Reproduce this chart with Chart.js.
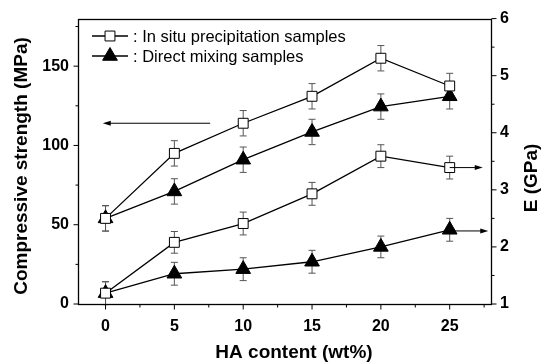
<!DOCTYPE html>
<html>
<head>
<meta charset="utf-8">
<script src="https://cdn.jsdelivr.net/npm/chart.js@4.4.1/dist/chart.umd.min.js"></script>
<style>
  html, body { margin: 0; padding: 0; background: #fff; }
</style>
</head>
<body>
<canvas id="grafico" width="542" height="363"></canvas>
<script>
// datos
const haContent = [0, 5, 10, 15, 20, 25];
const strengthInSitu = [54, 95, 114, 131, 155, 137.5];
const strengthMixing = [54, 71, 91, 108.5, 124.5, 131];
const modulusInSitu = [1.19, 2.08, 2.41, 2.93, 3.59, 3.39];
const modulusMixing = [1.19, 1.53, 1.61, 1.74, 2.0, 2.3];
const strengthErrInSitu = [8, 8, 8, 8, 8, 8];
const strengthErrMixing = [8, 8, 8, 8, 8, 8];
const modulusErrInSitu = [0.2, 0.19, 0.2, 0.2, 0.2, 0.2];
const modulusErrMixing = [0.2, 0.2, 0.2, 0.2, 0.19, 0.2];

const xTicks = [0, 5, 10, 15, 20, 25];
const xMinorTicks = [2.5, 7.5, 12.5, 17.5, 22.5, 27.5];
const strengthTicks = [0, 50, 100, 150];
const strengthMinorTicks = [25, 75, 125, 175];
const modulusTicks = [1, 2, 3, 4, 5, 6];
const modulusMinorTicks = [1.5, 2.5, 3.5, 4.5, 5.5];

const legendLabels = [": In situ precipitation samples", ": Direct mixing samples"];
const xTitle = "HA content (wt%)";
const yTitle = "Compressive strength (MPa)";
const y1Title = "E (GPa)";

// flechas que indican el eje de cada grupo (coordenadas de datos)
const arrows = [
  { axis: "y", value: 114, from: 7.6, to: -0.2 },
  { axis: "y1", value: 3.39, from: 25, to: 27.4 },
  { axis: "y1", value: 2.28, from: 25, to: 27.8 }
];

const FONT = "'Liberation Sans', Arial, sans-serif";

function puntos(ys) {
  return haContent.map((x, i) => ({ x, y: ys[i] }));
}

const cuadrado = {
  pointStyle: "rect", pointRadius: 7, pointHoverRadius: 7,
  pointBackgroundColor: "#fff", pointBorderColor: "#000", pointBorderWidth: 1
};
const triangulo = {
  pointStyle: "triangle", pointRadius: 8.5, pointHoverRadius: 8.5,
  pointBackgroundColor: "#000", pointBorderColor: "#000", pointBorderWidth: 1
};

const datasets = [
  { data: puntos(strengthInSitu), yAxisID: "y", errores: strengthErrInSitu, ...cuadrado },
  { data: puntos(strengthMixing), yAxisID: "y", errores: strengthErrMixing, ...triangulo },
  { data: puntos(modulusInSitu), yAxisID: "y1", errores: modulusErrInSitu, ...cuadrado },
  { data: puntos(modulusMixing), yAxisID: "y1", errores: modulusErrMixing, ...triangulo }
].map(d => ({ ...d, showLine: true, borderColor: "#000", borderWidth: 1.3, fill: false }));

// barras de error
const barrasError = {
  id: "barrasError",
  beforeDatasetsDraw(chart) {
    const ctx = chart.ctx;
    ctx.save();
    ctx.strokeStyle = "#555";
    ctx.lineWidth = 1;
    chart.data.datasets.forEach((ds, i) => {
      const meta = chart.getDatasetMeta(i);
      const escala = chart.scales[ds.yAxisID];
      ds.data.forEach((p, j) => {
        const x = meta.data[j].x;
        const arriba = escala.getPixelForValue(p.y + ds.errores[j]);
        const abajo = escala.getPixelForValue(p.y - ds.errores[j]);
        ctx.beginPath();
        ctx.moveTo(x, arriba); ctx.lineTo(x, abajo);
        ctx.moveTo(x - 3.5, arriba); ctx.lineTo(x + 3.5, arriba);
        ctx.moveTo(x - 3.5, abajo); ctx.lineTo(x + 3.5, abajo);
        ctx.stroke();
      });
    });
    ctx.restore();
  }
};

// marco, marcas de ejes, titulos, flechas y leyenda
const decoracion = {
  id: "decoracion",
  afterDraw(chart) {
    const ctx = chart.ctx;
    const a = chart.chartArea;
    const sx = chart.scales.x, sy = chart.scales.y, sy1 = chart.scales.y1;
    ctx.save();
    ctx.strokeStyle = "#000";
    ctx.lineWidth = 1.3;
    const l = Math.round(a.left) + 0.5, t = Math.round(a.top) + 0.5;
    const r = Math.round(a.right) + 0.5, b = Math.round(a.bottom) + 0.5;
    ctx.strokeRect(l, t, r - l, b - t);

    ctx.lineWidth = 1;
    ctx.beginPath();
    xTicks.forEach(v => { const p = sx.getPixelForValue(v); ctx.moveTo(p, b); ctx.lineTo(p, b + 5); });
    xMinorTicks.forEach(v => { const p = sx.getPixelForValue(v); ctx.moveTo(p, b); ctx.lineTo(p, b + 3); });
    strengthTicks.forEach(v => { const p = sy.getPixelForValue(v); ctx.moveTo(l, p); ctx.lineTo(l - 5, p); });
    strengthMinorTicks.forEach(v => { const p = sy.getPixelForValue(v); ctx.moveTo(l, p); ctx.lineTo(l - 3, p); });
    modulusTicks.forEach(v => { const p = sy1.getPixelForValue(v); ctx.moveTo(r, p); ctx.lineTo(r + 5, p); });
    modulusMinorTicks.forEach(v => { const p = sy1.getPixelForValue(v); ctx.moveTo(r, p); ctx.lineTo(r + 3, p); });
    ctx.stroke();

    // flechas
    arrows.forEach(f => {
      const y = chart.scales[f.axis].getPixelForValue(f.value);
      const x0 = sx.getPixelForValue(f.from);
      const x1 = sx.getPixelForValue(f.to);
      const dir = Math.sign(x1 - x0);
      ctx.strokeStyle = "#000";
      ctx.fillStyle = "#000";
      ctx.beginPath();
      ctx.moveTo(x0, y); ctx.lineTo(x1 - dir * 6, y);
      ctx.stroke();
      ctx.beginPath();
      ctx.moveTo(x1, y);
      ctx.lineTo(x1 - dir * 8, y - 2.5);
      ctx.lineTo(x1 - dir * 8, y + 2.5);
      ctx.closePath();
      ctx.fill();
    });

    // titulos
    ctx.fillStyle = "#000";
    ctx.font = "bold 19px " + FONT;
    ctx.textAlign = "center";
    ctx.textBaseline = "alphabetic";
    ctx.fillText(xTitle, 294, 358);
    ctx.save();
    ctx.translate(26.5, 166);
    ctx.rotate(-Math.PI / 2);
    ctx.fillText(yTitle, 0, 0);
    ctx.restore();
    ctx.save();
    ctx.translate(537, 178);
    ctx.rotate(-Math.PI / 2);
    ctx.fillText(y1Title, 0, 0);
    ctx.restore();

    // leyenda
    const estilos = [cuadrado, triangulo];
    legendLabels.forEach((txt, i) => {
      const y = 36 + i * 20;
      ctx.strokeStyle = "#000";
      ctx.lineWidth = 1.3;
      ctx.beginPath();
      ctx.moveTo(92, y); ctx.lineTo(128, y);
      ctx.stroke();
      const e = estilos[i];
      ctx.fillStyle = e.pointBackgroundColor;
      ctx.strokeStyle = e.pointBorderColor;
      ctx.lineWidth = 1;
      Chart.helpers.drawPoint(ctx, { pointStyle: e.pointStyle, radius: e.pointRadius, borderWidth: 1 }, 110, y);
      ctx.fillStyle = "#000";
      ctx.font = "16.5px " + FONT;
      ctx.textAlign = "left";
      ctx.textBaseline = "middle";
      ctx.fillText(txt, 133, y + 1);
    });
    ctx.restore();
  }
};

function fijarTicks(valores) {
  return scale => { scale.ticks = valores.map(v => ({ value: v })); };
}

const tickFont = { family: FONT, size: 16, weight: "bold" };

new Chart(document.getElementById("grafico"), {
  type: "scatter",
  data: { datasets },
  options: {
    responsive: false,
    animation: false,
    devicePixelRatio: 1,
    layout: { padding: { top: 17, left: 0, right: 0, bottom: 0 } },
    plugins: { legend: { display: false }, tooltip: { enabled: false } },
    scales: {
      x: {
        type: "linear", min: -2, max: 28,
        afterBuildTicks: fijarTicks(xTicks),
        afterFit: s => { s.height = 59; },
        grid: { display: false, drawTicks: false },
        border: { display: false },
        ticks: { color: "#000", font: tickFont, padding: 13 }
      },
      y: {
        type: "linear", position: "left", min: 0, max: 180,
        afterBuildTicks: fijarTicks(strengthTicks),
        afterFit: s => { s.width = 78; },
        grid: { display: false, drawTicks: false },
        border: { display: false },
        ticks: { color: "#000", font: tickFont, padding: 9 }
      },
      y1: {
        type: "linear", position: "right", min: 1, max: 6,
        afterBuildTicks: fijarTicks(modulusTicks),
        afterFit: s => { s.width = 51; },
        grid: { display: false, drawTicks: false },
        border: { display: false },
        ticks: { color: "#000", font: tickFont, padding: 9 }
      }
    }
  },
  plugins: [barrasError, decoracion]
});
</script>
</body>
</html>
